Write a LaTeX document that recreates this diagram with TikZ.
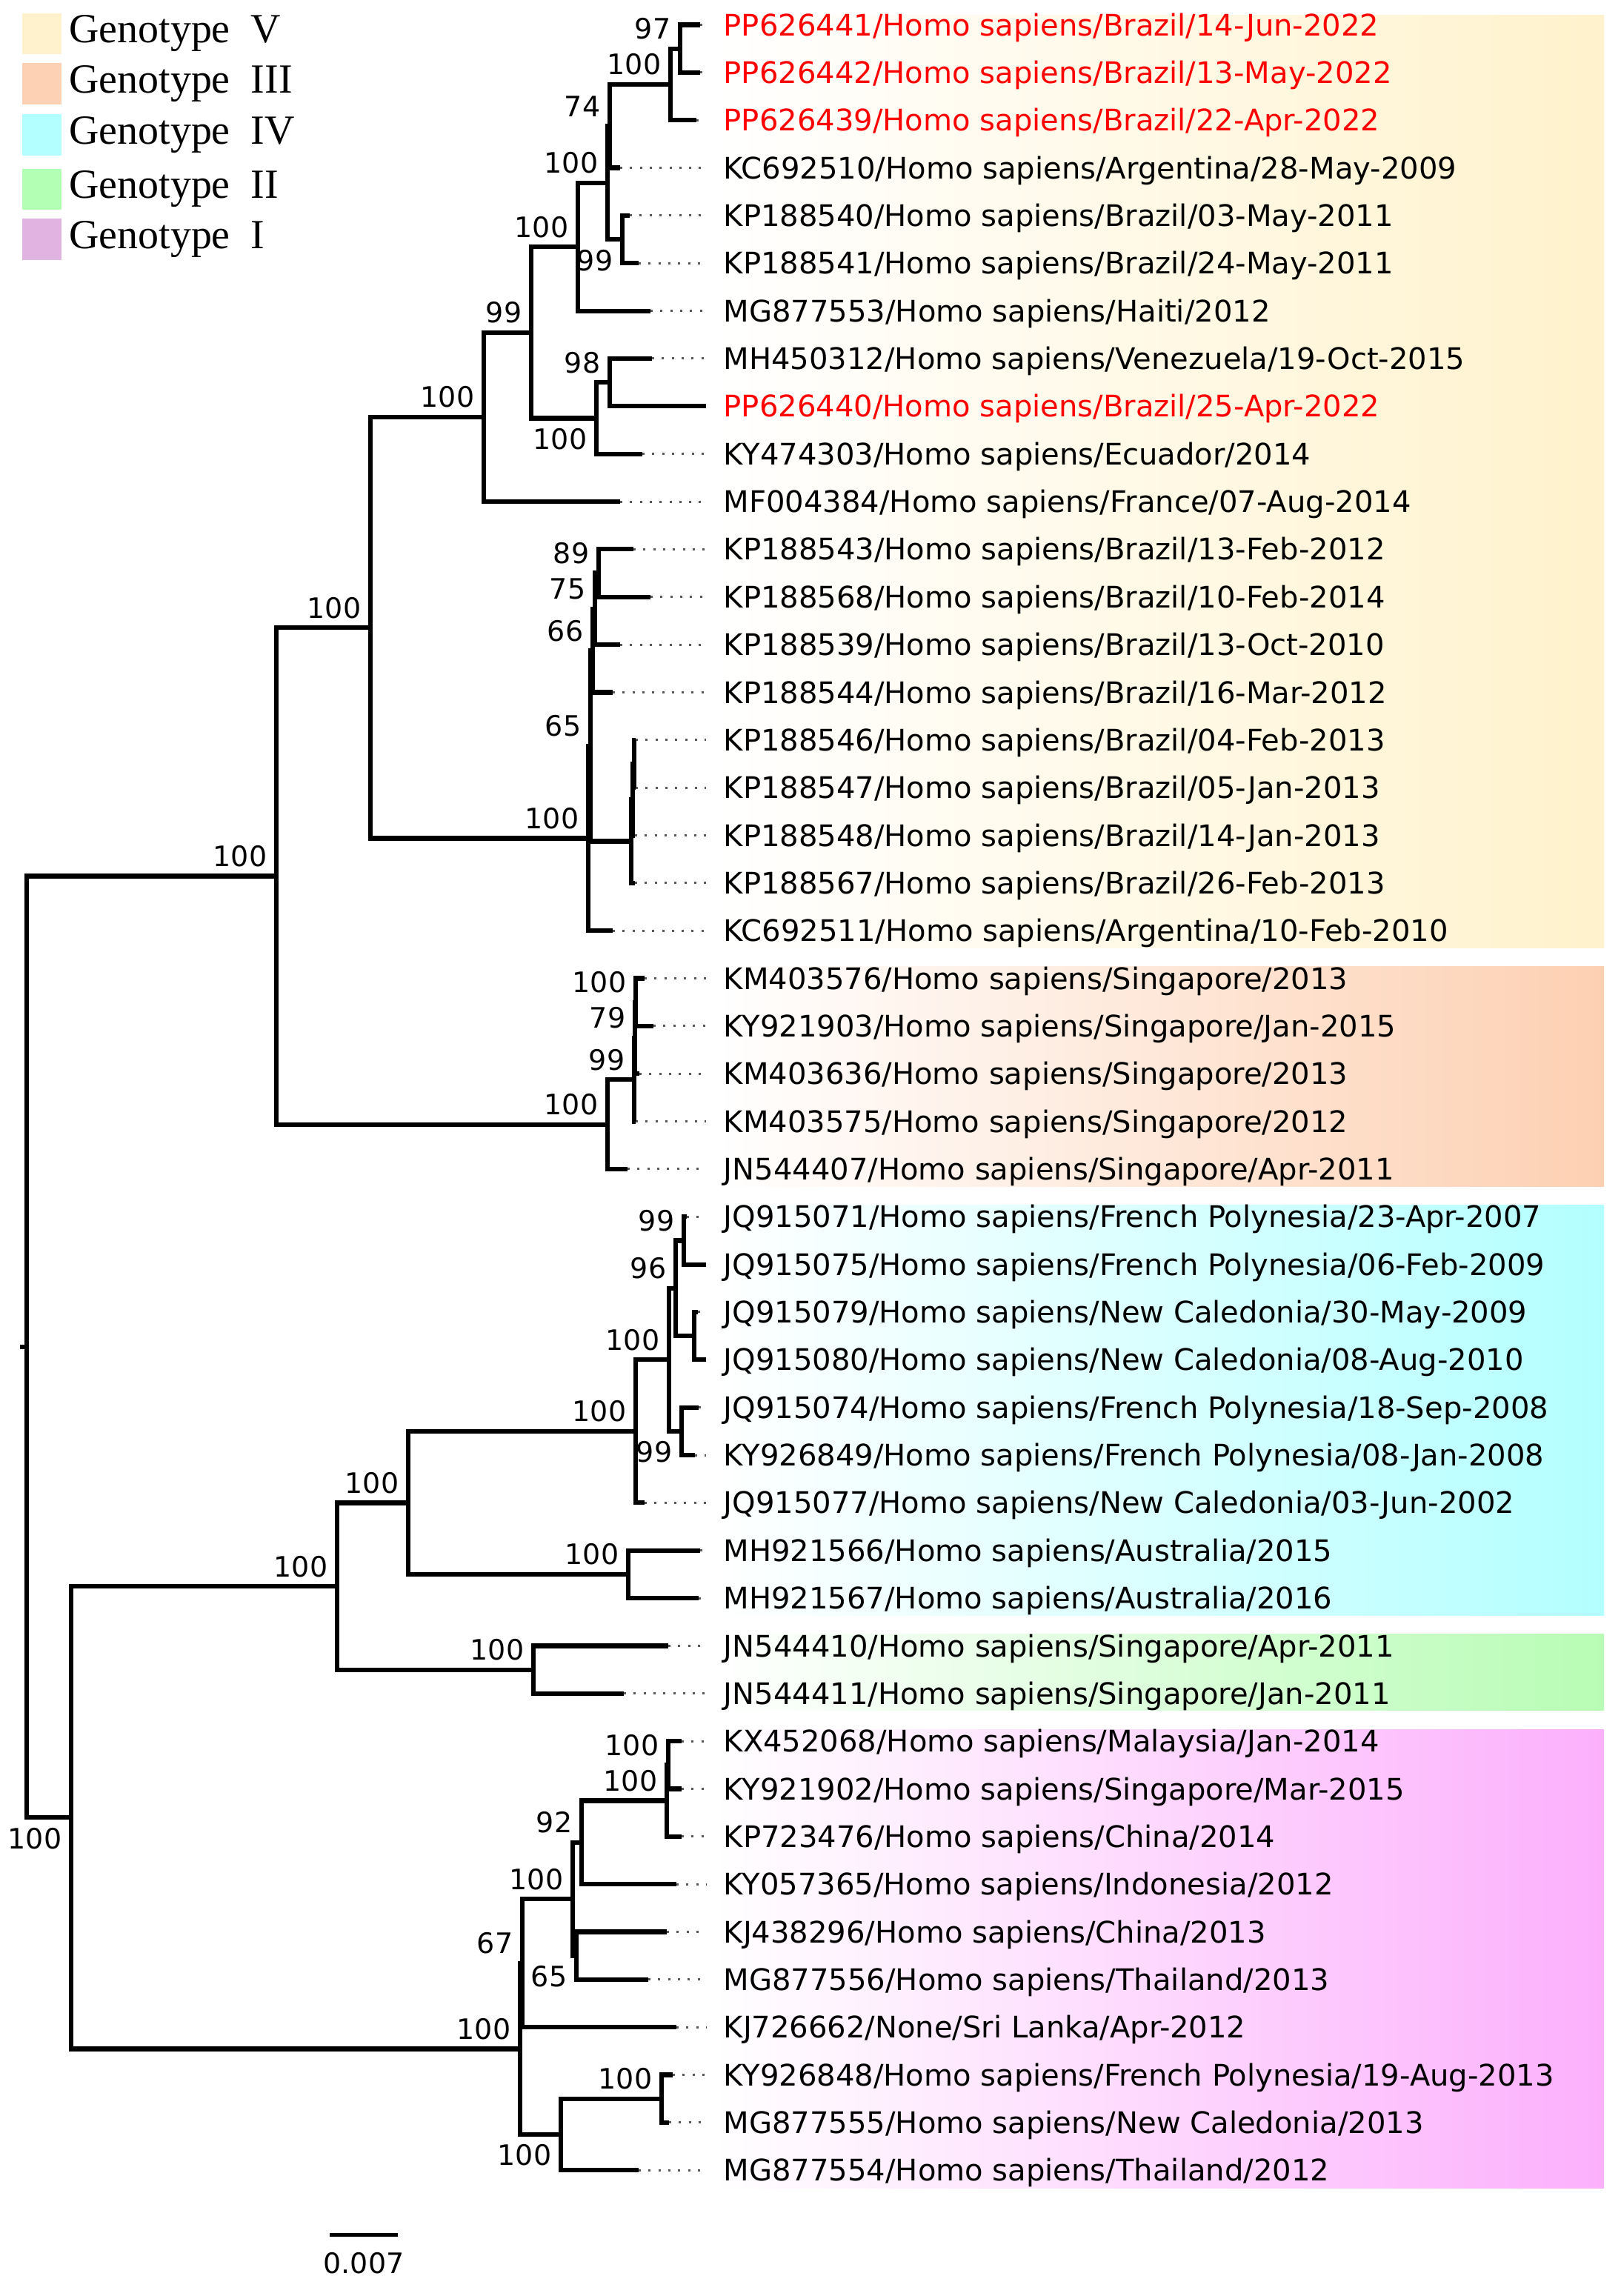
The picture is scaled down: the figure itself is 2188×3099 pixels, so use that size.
\documentclass[tikz,border=0pt]{standalone}
\usepackage{fontspec}
\setmainfont{Liberation Serif}
\newfontfamily\lblfont{DejaVu Sans}
\usetikzlibrary{positioning}

\definecolor{colV}{RGB}{255,242,204}
\definecolor{colIII}{RGB}{253,208,178}
\definecolor{colIV}{RGB}{179,255,255}
\definecolor{colII}{RGB}{184,253,181}
\definecolor{colI}{RGB}{252,176,252}
\definecolor{legIII}{RGB}{253,209,179}
\definecolor{legII}{RGB}{179,255,179}
\definecolor{legI}{RGB}{224,179,224}

\tikzset{
    branch/.style={line width=0.062cm, line join=miter},
    dotline/.style={draw=black!65, line width=0.03cm, dash pattern=on 0.03cm off 0.103cm},
    lbl/.style={anchor=west, inner xsep=0.23cm, inner ysep=0pt, text height=0.292cm, text depth=0pt, font=\lblfont\fontsize{11.4}{13}\selectfont},
    bsnum/.style={inner sep=0pt, font=\lblfont\fontsize{10.8}{12}\selectfont},
    bsa/.style={bsnum, anchor=base east, xshift=-0.12cm, yshift=0.13cm},
    bsb/.style={bsnum, anchor=north east, xshift=-0.12cm, yshift=-0.13cm},
    legbox/.style={minimum width=0.53cm, minimum height=0.55cm, inner sep=0pt, draw=none},
    legtxt/.style={inner sep=0pt, font=\fontsize{15.9}{18}\selectfont}
}

\begin{document}
\begin{tikzpicture}[x=0.01cm, y=-0.01cm]

    \useasboundingbox (0,0) rectangle (2188,3099);

    \shade[left color=white, middle color=colV!75, right color=colV] (965,20) rectangle (2165,1279);
\shade[left color=white, middle color=colIII!75, right color=colIII] (965,1304) rectangle (2165,1601);
\shade[left color=white, middle color=colIV!75, right color=colIV] (965,1626) rectangle (2165,2180);
\shade[left color=white, middle color=colII!75, right color=colII] (965,2205) rectangle (2165,2308);
\shade[left color=white, middle color=colI!75, right color=colI] (965,2334) rectangle (2165,2953);


    \node[legbox, fill=colV] (K1) at (56.5,45.5) {};
\node[legtxt, right=0.09cm of K1] (KT1) {Genotype\ \ V};
\node[legbox, fill=legIII] (K2) at (56.5,113) {};
\node[legtxt, right=0.09cm of K2] (KT2) {Genotype\ \ III};
\node[legbox, fill=colIV] (K3) at (56.5,182) {};
\node[legtxt, right=0.09cm of K3] (KT3) {Genotype\ \ IV};
\node[legbox, fill=legII] (K4) at (56.5,255.5) {};
\node[legtxt, right=0.09cm of K4] (KT4) {Genotype\ \ II};
\node[legbox, fill=legI] (K5) at (56.5,323) {};
\node[legtxt, right=0.09cm of K5] (KT5) {Genotype\ \ I};


    \coordinate (L1) at (945, 33.5);
\node[lbl, text=red] (T1) at (953, 33.5) {PP626441/Homo sapiens/Brazil/14-Jun-2022};
\draw[dotline] (L1) -- (T1);
\coordinate (L2) at (945, 97.85);
\node[lbl, text=red] (T2) at (953, 97.85) {PP626442/Homo sapiens/Brazil/13-May-2022};
\draw[dotline] (L2) -- (T2);
\coordinate (L3) at (940, 162.2);
\node[lbl, text=red] (T3) at (953, 162.2) {PP626439/Homo sapiens/Brazil/22-Apr-2022};
\draw[dotline] (L3) -- (T3);
\coordinate (L4) at (837, 226.55);
\node[lbl] (T4) at (953, 226.55) {KC692510/Homo sapiens/Argentina/28-May-2009};
\draw[dotline] (L4) -- (T4);
\coordinate (L5) at (850, 290.9);
\node[lbl] (T5) at (953, 290.9) {KP188540/Homo sapiens/Brazil/03-May-2011};
\draw[dotline] (L5) -- (T5);
\coordinate (L6) at (862, 355.25);
\node[lbl] (T6) at (953, 355.25) {KP188541/Homo sapiens/Brazil/24-May-2011};
\draw[dotline] (L6) -- (T6);
\coordinate (L7) at (878, 419.6);
\node[lbl] (T7) at (953, 419.6) {MG877553/Homo sapiens/Haiti/2012};
\draw[dotline] (L7) -- (T7);
\coordinate (L8) at (880, 483.95);
\node[lbl] (T8) at (953, 483.95) {MH450312/Homo sapiens/Venezuela/19-Oct-2015};
\draw[dotline] (L8) -- (T8);
\coordinate (L9) at (953, 548.3);
\node[lbl, text=red] (T9) at (953, 548.3) {PP626440/Homo sapiens/Brazil/25-Apr-2022};
\coordinate (L10) at (867, 612.65);
\node[lbl] (T10) at (953, 612.65) {KY474303/Homo sapiens/Ecuador/2014};
\draw[dotline] (L10) -- (T10);
\coordinate (L11) at (837, 677.0);
\node[lbl] (T11) at (953, 677.0) {MF004384/Homo sapiens/France/07-Aug-2014};
\draw[dotline] (L11) -- (T11);
\coordinate (L12) at (855, 741.35);
\node[lbl] (T12) at (953, 741.35) {KP188543/Homo sapiens/Brazil/13-Feb-2012};
\draw[dotline] (L12) -- (T12);
\coordinate (L13) at (878, 805.7);
\node[lbl] (T13) at (953, 805.7) {KP188568/Homo sapiens/Brazil/10-Feb-2014};
\draw[dotline] (L13) -- (T13);
\coordinate (L14) at (837, 870.05);
\node[lbl] (T14) at (953, 870.05) {KP188539/Homo sapiens/Brazil/13-Oct-2010};
\draw[dotline] (L14) -- (T14);
\coordinate (L15) at (827, 934.4);
\node[lbl] (T15) at (953, 934.4) {KP188544/Homo sapiens/Brazil/16-Mar-2012};
\draw[dotline] (L15) -- (T15);
\coordinate (L16) at (858, 998.75);
\node[lbl] (T16) at (953, 998.75) {KP188546/Homo sapiens/Brazil/04-Feb-2013};
\draw[dotline] (L16) -- (T16);
\coordinate (L17) at (858, 1063.1);
\node[lbl] (T17) at (953, 1063.1) {KP188547/Homo sapiens/Brazil/05-Jan-2013};
\draw[dotline] (L17) -- (T17);
\coordinate (L18) at (857, 1127.45);
\node[lbl] (T18) at (953, 1127.45) {KP188548/Homo sapiens/Brazil/14-Jan-2013};
\draw[dotline] (L18) -- (T18);
\coordinate (L19) at (857, 1191.8);
\node[lbl] (T19) at (953, 1191.8) {KP188567/Homo sapiens/Brazil/26-Feb-2013};
\draw[dotline] (L19) -- (T19);
\coordinate (L20) at (827, 1256.15);
\node[lbl] (T20) at (953, 1256.15) {KC692511/Homo sapiens/Argentina/10-Feb-2010};
\draw[dotline] (L20) -- (T20);


    \coordinate (L21) at (870, 1320.5);
\node[lbl] (T21) at (953, 1320.5) {KM403576/Homo sapiens/Singapore/2013};
\draw[dotline] (L21) -- (T21);
\coordinate (L22) at (882, 1384.85);
\node[lbl] (T22) at (953, 1384.85) {KY921903/Homo sapiens/Singapore/Jan-2015};
\draw[dotline] (L22) -- (T22);
\coordinate (L23) at (863, 1449.2);
\node[lbl] (T23) at (953, 1449.2) {KM403636/Homo sapiens/Singapore/2013};
\draw[dotline] (L23) -- (T23);
\coordinate (L24) at (858, 1513.55);
\node[lbl] (T24) at (953, 1513.55) {KM403575/Homo sapiens/Singapore/2012};
\draw[dotline] (L24) -- (T24);
\coordinate (L25) at (847, 1577.9);
\node[lbl] (T25) at (953, 1577.9) {JN544407/Homo sapiens/Singapore/Apr-2011};
\draw[dotline] (L25) -- (T25);


    \coordinate (L26) at (927, 1642.25);
\node[lbl] (T26) at (953, 1642.25) {JQ915071/Homo sapiens/French Polynesia/23-Apr-2007};
\draw[dotline] (L26) -- (T26);
\coordinate (L27) at (953, 1706.6);
\node[lbl] (T27) at (953, 1706.6) {JQ915075/Homo sapiens/French Polynesia/06-Feb-2009};
\coordinate (L28) at (942, 1770.95);
\node[lbl] (T28) at (953, 1770.95) {JQ915079/Homo sapiens/New Caledonia/30-May-2009};
\draw[dotline] (L28) -- (T28);
\coordinate (L29) at (953, 1835.3);
\node[lbl] (T29) at (953, 1835.3) {JQ915080/Homo sapiens/New Caledonia/08-Aug-2010};
\coordinate (L30) at (943, 1899.65);
\node[lbl] (T30) at (953, 1899.65) {JQ915074/Homo sapiens/French Polynesia/18-Sep-2008};
\draw[dotline] (L30) -- (T30);
\coordinate (L31) at (938, 1964.0);
\node[lbl] (T31) at (953, 1964.0) {KY926849/Homo sapiens/French Polynesia/08-Jan-2008};
\draw[dotline] (L31) -- (T31);
\coordinate (L32) at (870, 2028.35);
\node[lbl] (T32) at (953, 2028.35) {JQ915077/Homo sapiens/New Caledonia/03-Jun-2002};
\draw[dotline] (L32) -- (T32);
\coordinate (L33) at (945, 2092.7);
\node[lbl] (T33) at (953, 2092.7) {MH921566/Homo sapiens/Australia/2015};
\draw[dotline] (L33) -- (T33);
\coordinate (L34) at (943, 2157.05);
\node[lbl] (T34) at (953, 2157.05) {MH921567/Homo sapiens/Australia/2016};
\draw[dotline] (L34) -- (T34);


    \coordinate (L35) at (902, 2221.4);
\node[lbl] (T35) at (953, 2221.4) {JN544410/Homo sapiens/Singapore/Apr-2011};
\draw[dotline] (L35) -- (T35);
\coordinate (L36) at (842, 2285.75);
\node[lbl] (T36) at (953, 2285.75) {JN544411/Homo sapiens/Singapore/Jan-2011};
\draw[dotline] (L36) -- (T36);


    \coordinate (L37) at (920, 2350.1);
\node[lbl] (T37) at (953, 2350.1) {KX452068/Homo sapiens/Malaysia/Jan-2014};
\draw[dotline] (L37) -- (T37);
\coordinate (L38) at (920, 2414.45);
\node[lbl] (T38) at (953, 2414.45) {KY921902/Homo sapiens/Singapore/Mar-2015};
\draw[dotline] (L38) -- (T38);
\coordinate (L39) at (920, 2478.8);
\node[lbl] (T39) at (953, 2478.8) {KP723476/Homo sapiens/China/2014};
\draw[dotline] (L39) -- (T39);
\coordinate (L40) at (913, 2543.15);
\node[lbl] (T40) at (953, 2543.15) {KY057365/Homo sapiens/Indonesia/2012};
\draw[dotline] (L40) -- (T40);
\coordinate (L41) at (900, 2607.5);
\node[lbl] (T41) at (953, 2607.5) {KJ438296/Homo sapiens/China/2013};
\draw[dotline] (L41) -- (T41);
\coordinate (L42) at (875, 2671.85);
\node[lbl] (T42) at (953, 2671.85) {MG877556/Homo sapiens/Thailand/2013};
\draw[dotline] (L42) -- (T42);
\coordinate (L43) at (913, 2736.2);
\node[lbl] (T43) at (953, 2736.2) {KJ726662/None/Sri Lanka/Apr-2012};
\draw[dotline] (L43) -- (T43);
\coordinate (L44) at (908, 2800.55);
\node[lbl] (T44) at (953, 2800.55) {KY926848/Homo sapiens/French Polynesia/19-Aug-2013};
\draw[dotline] (L44) -- (T44);
\coordinate (L45) at (903, 2864.9);
\node[lbl] (T45) at (953, 2864.9) {MG877555/Homo sapiens/New Caledonia/2013};
\draw[dotline] (L45) -- (T45);
\coordinate (L46) at (862, 2929.25);
\node[lbl] (T46) at (953, 2929.25) {MG877554/Homo sapiens/Thailand/2012};
\draw[dotline] (L46) -- (T46);


    \coordinate (A1) at (918, 65.7);
\draw[branch] (A1) |- (L1); \draw[branch] (A1) |- (L2);
\node[bsa] (bA1) at (A1) {97};
\coordinate (A2) at (905, 113.9);
\draw[branch] (A2) |- (A1); \draw[branch] (A2) |- (L3);
\node[bsa] (bA2) at (A2) {100};
\coordinate (A3) at (823, 170.2);
\draw[branch] (A3) |- (A2); \draw[branch] (A3) |- (L4);
\node[bsa] (bA3) at (A3) {74};
\coordinate (A4) at (840, 323.1);
\draw[branch] (A4) |- (L5); \draw[branch] (A4) |- (L6);
\node[bsb] (bA4) at (A4) {99};
\coordinate (A5) at (820, 246.6);
\draw[branch] (A5) |- (A3); \draw[branch] (A5) |- (A4);
\node[bsa] (bA5) at (A5) {100};
\coordinate (A6) at (780, 333.1);
\draw[branch] (A6) |- (A5); \draw[branch] (A6) |- (L7);
\node[bsa] (bA6) at (A6) {100};
\coordinate (A7) at (823, 516.1);
\draw[branch] (A7) |- (L8); \draw[branch] (A7) |- (L9);
\node[bsa] (bA7) at (A7) {98};
\coordinate (A8) at (805, 564.4);
\draw[branch] (A8) |- (A7); \draw[branch] (A8) |- (L10);
\node[bsb] (bA8) at (A8) {100};
\coordinate (A9) at (717, 448.8);
\draw[branch] (A9) |- (A6); \draw[branch] (A9) |- (A8);
\node[bsa] (bA9) at (A9) {99};
\coordinate (A10) at (653, 562.9);
\draw[branch] (A10) |- (A9); \draw[branch] (A10) |- (L11);
\node[bsa] (bA10) at (A10) {100};


    \coordinate (B1) at (808, 773.5);
\draw[branch] (B1) |- (L12); \draw[branch] (B1) |- (L13);
\node[bsa] (bB1) at (B1) {89};
\coordinate (B2) at (803, 821.8);
\draw[branch] (B2) |- (B1); \draw[branch] (B2) |- (L14);
\node[bsa] (bB2) at (B2) {75};
\coordinate (B3) at (800, 878.1);
\draw[branch] (B3) |- (B2); \draw[branch] (B3) |- (L15);
\node[bsa] (bB3) at (B3) {66};
\coordinate (C1) at (856, 1030.9);
\draw[branch] (C1) |- (L16); \draw[branch] (C1) |- (L17);
\coordinate (C2) at (854, 1079.2);
\draw[branch] (C2) |- (C1); \draw[branch] (C2) |- (L18);
\coordinate (C3) at (852, 1135.5);
\draw[branch] (C3) |- (C2); \draw[branch] (C3) |- (L19);
\coordinate (B4) at (797, 1006.8);
\draw[branch] (B4) |- (B3); \draw[branch] (B4) |- (C3);
\node[bsa] (bB4) at (B4) {65};
\coordinate (B5) at (794, 1131.5);
\draw[branch] (B5) |- (B4); \draw[branch] (B5) |- (L20);
\node[bsa] (bB5) at (B5) {100};
\coordinate (A11) at (500, 847.2);
\draw[branch] (A11) |- (A10); \draw[branch] (A11) |- (B5);
\node[bsa] (bA11) at (A11) {100};


    \coordinate (D1) at (858, 1352.7);
\draw[branch] (D1) |- (L21); \draw[branch] (D1) |- (L22);
\node[bsa] (bD1) at (D1) {100};
\coordinate (D2) at (857, 1400.9);
\draw[branch] (D2) |- (D1); \draw[branch] (D2) |- (L23);
\node[bsa] (bD2) at (D2) {79};
\coordinate (D3) at (856, 1457.2);
\draw[branch] (D3) |- (D2); \draw[branch] (D3) |- (L24);
\node[bsa] (bD3) at (D3) {99};
\coordinate (D4) at (820, 1517.6);
\draw[branch] (D4) |- (D3); \draw[branch] (D4) |- (L25);
\node[bsa] (bD4) at (D4) {100};
\coordinate (A12) at (373, 1182.4);
\draw[branch] (A12) |- (A11); \draw[branch] (A12) |- (D4);
\node[bsa] (bA12) at (A12) {100};


    \coordinate (E1) at (923, 1674.4);
\draw[branch] (E1) |- (L26); \draw[branch] (E1) |- (L27);
\node[bsa] (bE1) at (E1) {99};
\coordinate (E2) at (937, 1803.1);
\draw[branch] (E2) |- (L28); \draw[branch] (E2) |- (L29);
\coordinate (E3) at (912, 1738.8);
\draw[branch] (E3) |- (E1); \draw[branch] (E3) |- (E2);
\node[bsa] (bE3) at (E3) {96};
\coordinate (E4) at (920, 1931.8);
\draw[branch] (E4) |- (L30); \draw[branch] (E4) |- (L31);
\node[bsb] (bE4) at (E4) {99};
\coordinate (E5) at (903, 1835.3);
\draw[branch] (E5) |- (E3); \draw[branch] (E5) |- (E4);
\node[bsa] (bE5) at (E5) {100};
\coordinate (E6) at (858, 1931.8);
\draw[branch] (E6) |- (E5); \draw[branch] (E6) |- (L32);
\node[bsa] (bE6) at (E6) {100};
\coordinate (E7) at (848, 2124.9);
\draw[branch] (E7) |- (L33); \draw[branch] (E7) |- (L34);
\node[bsa] (bE7) at (E7) {100};
\coordinate (E8) at (551, 2028.4);
\draw[branch] (E8) |- (E6); \draw[branch] (E8) |- (E7);
\node[bsa] (bE8) at (E8) {100};
\coordinate (F1) at (720, 2253.6);
\draw[branch] (F1) |- (L35); \draw[branch] (F1) |- (L36);
\node[bsa] (bF1) at (F1) {100};
\coordinate (E9) at (455, 2141.0);
\draw[branch] (E9) |- (E8); \draw[branch] (E9) |- (F1);
\node[bsa] (bE9) at (E9) {100};


    \coordinate (G1) at (902, 2382.3);
\draw[branch] (G1) |- (L37); \draw[branch] (G1) |- (L38);
\node[bsa] (bG1) at (G1) {100};
\coordinate (G2) at (900, 2430.5);
\draw[branch] (G2) |- (G1); \draw[branch] (G2) |- (L39);
\node[bsa] (bG2) at (G2) {100};
\coordinate (G3) at (785, 2486.8);
\draw[branch] (G3) |- (G2); \draw[branch] (G3) |- (L40);
\node[bsa] (bG3) at (G3) {92};
\coordinate (G4) at (778, 2639.7);
\draw[branch] (G4) |- (L41); \draw[branch] (G4) |- (L42);
\node[bsb] (bG4) at (G4) {65};
\coordinate (G5) at (773, 2563.3);
\draw[branch] (G5) |- (G3); \draw[branch] (G5) |- (G4);
\node[bsa] (bG5) at (G5) {100};
\coordinate (G6) at (705, 2649.7);
\draw[branch] (G6) |- (G5); \draw[branch] (G6) |- (L43);
\node[bsa] (bG6) at (G6) {67};
\coordinate (G7) at (893, 2832.7);
\draw[branch] (G7) |- (L44); \draw[branch] (G7) |- (L45);
\node[bsa] (bG7) at (G7) {100};
\coordinate (G8) at (757, 2881.0);
\draw[branch] (G8) |- (G7); \draw[branch] (G8) |- (L46);
\node[bsb] (bG8) at (G8) {100};
\coordinate (G9) at (702, 2765.4);
\draw[branch] (G9) |- (G6); \draw[branch] (G9) |- (G8);
\node[bsa] (bG9) at (G9) {100};


    \coordinate (H1) at (96, 2453.2);
\draw[branch] (H1) |- (E9); \draw[branch] (H1) |- (G9);
\node[bsb] (bH1) at (H1) {100};
\coordinate (R) at (36, 1817.8);
\coordinate (R0) at (27, 1817.8);
\draw[branch] (R) |- (A12); \draw[branch] (R) |- (H1);
\draw[branch] (R0) -- (R);


    \coordinate (SB1) at (445, 3016);
\coordinate (SB2) at (537, 3016);
\draw[line width=0.05cm] (SB1) -- (SB2);
\node[bsnum, anchor=north] (SBT) at (491, 3040) {0.007};

\end{tikzpicture}
\end{document}
